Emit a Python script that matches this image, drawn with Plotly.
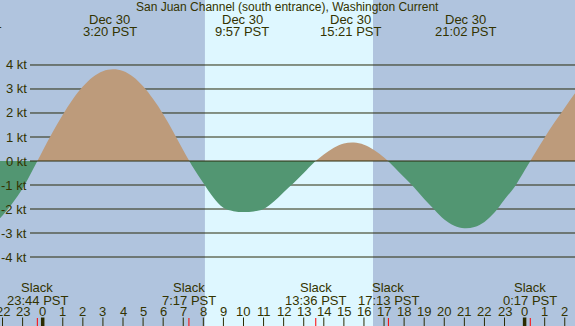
import plotly.graph_objects as go

# ---------------- data ----------------
TITLE = "San Juan Channel (south entrance), Washington Current"

# current speed in knots vs hours after midnight Dec 30 (PST), read every half hour
hours = [-2.5, -2.0, -1.5, -1.0, -0.5, 0.0, 0.5, 1.0, 1.5, 2.0, 2.5, 3.0, 3.5, 4.0, 4.5,
         5.0, 5.5, 6.0, 6.5, 7.0, 7.5, 8.0, 8.5, 9.0, 9.5, 10.0, 10.5, 11.0, 11.5, 12.0,
         12.5, 13.0, 13.5, 14.0, 14.5, 15.0, 15.5, 16.0, 16.5, 17.0, 17.5, 18.0, 18.5,
         19.0, 19.5, 20.0, 20.5, 21.0, 21.5, 22.0, 22.5, 23.0, 23.5, 24.0, 24.5, 25.0,
         25.5, 26.0, 26.5, 27.0]
speeds = [-2.68, -2.27, -1.75, -1.15, -0.38, 0.43, 1.21, 1.93, 2.57, 3.10, 3.50, 3.74, 3.82, 3.75, 3.51,
          3.11, 2.58, 1.95, 1.22, 0.45, -0.28, -0.92, -1.52, -1.95, -2.09, -2.125, -2.10, -2.0, -1.7, -1.3,
          -0.92, -0.5, -0.07, 0.27, 0.55, 0.73, 0.77, 0.68, 0.46, 0.15, -0.25, -0.68, -1.1,
          -1.58, -2.02, -2.44, -2.7, -2.8, -2.75, -2.54, -2.15, -1.6, -1.08, -0.4, 0.3, 0.98,
          1.62, 2.22, 2.81, 3.3]

slack_hours = [-0.267, 7.283, 13.6, 17.217, 24.283]
slack_labels = ["23:44 PST", "7:17 PST", "13:36 PST", "17:13 PST", "0:17 PST"]

extreme_hours = [3.333, 9.95, 15.35, 21.033]
extreme_dates = ["Dec 30", "Dec 30", "Dec 30", "Dec 30"]
extreme_labels = ["3:20 PST", "9:57 PST", "15:21 PST", "21:02 PST"]

sunrise, sunset = 8.08, 16.45
kt_levels = [-4, -3, -2, -1, 0, 1, 2, 3, 4]
hour_ticks = list(range(-2, 27))

# ---------------- styling ----------------
W, H = 575, 326
NIGHT = "#b0c4de"
DAY = "#def7ff"
FLOOD = "#bd9b7b"
EBB = "#529672"
TXT = "#333300"
GRID = "#2b2b0b"
FONT = "Liberation Sans"
FS = 13
X_RANGE = [-2.126, 26.51]
Y_TOP, Y_BOT = 6.708, -6.875
ZERO_PX = 161


def py(px):
    return 1 - px / H


fig = go.Figure()

# flood part: clipped to the area above 0 kt (yaxis2); ebb part: below 0 kt (yaxis3)
fig.add_trace(go.Scatter(
    x=hours, y=speeds, mode="lines", xaxis="x", yaxis="y2",
    line=dict(width=0, shape="spline", smoothing=1),
    fill="tozeroy", fillcolor=FLOOD, hoverinfo="skip", showlegend=False))
fig.add_trace(go.Scatter(
    x=hours, y=speeds, mode="lines", xaxis="x", yaxis="y3",
    line=dict(width=0, shape="spline", smoothing=1),
    fill="tozeroy", fillcolor=EBB, hoverinfo="skip", showlegend=False))

shapes = []
# daylight band
shapes.append(dict(type="rect", xref="x", yref="paper", x0=sunrise, x1=sunset,
                   y0=0, y1=1, fillcolor=DAY, line=dict(width=0), layer="below"))
# grid lines
for k in kt_levels:
    shapes.append(dict(type="line", xref="paper", yref="y", x0=30 / W, x1=1,
                       y0=k, y1=k, line=dict(color=GRID, width=1),
                       layer="above" if k == 0 else "below"))
# hour ticks
for h in hour_ticks:
    midnight = (h % 24 == 0)
    shapes.append(dict(type="line", xref="x", yref="paper", x0=h, x1=h,
                       y0=py(317.5), y1=0,
                       line=dict(color="#2b2b00", width=3.5 if midnight else 1)))
# slack ticks (red)
for s in slack_hours:
    shapes.append(dict(type="line", xref="x", yref="paper", x0=s, x1=s,
                       y0=py(318), y1=0, line=dict(color="#ff0000", width=1)))

ann = []
font = dict(family=FONT, size=FS, color=TXT)
ann.append(dict(text=TITLE, xref="paper", yref="paper", x=0.5, y=py(7.5),
                xanchor="center", yanchor="middle", showarrow=False,
                font=dict(family=FONT, size=12, color=TXT)))
for h, d, t in zip(extreme_hours, extreme_dates, extreme_labels):
    ann.append(dict(text=d, xref="x", yref="paper", x=h, y=py(19.5),
                    xanchor="center", yanchor="middle", showarrow=False, font=font))
    ann.append(dict(text=t, xref="x", yref="paper", x=h, y=py(32),
                    xanchor="center", yanchor="middle", showarrow=False, font=font))
# fragment of the previous (clipped) label at the left edge
ann.append(dict(text="20:44 PST", xref="paper", yref="paper", x=2.5 / W, y=py(32),
                xanchor="right", yanchor="middle", showarrow=False, font=font))
for s, t in zip(slack_hours, slack_labels):
    ann.append(dict(text="Slack", xref="x", yref="paper", x=s, y=py(287.5),
                    xanchor="center", yanchor="middle", showarrow=False, font=font))
    ann.append(dict(text=t, xref="x", yref="paper", x=s, y=py(300),
                    xanchor="center", yanchor="middle", showarrow=False, font=font))
for h in hour_ticks:
    ann.append(dict(text=str(h % 24), xref="x", yref="paper", x=h, y=py(311),
                    xanchor="center", yanchor="middle", showarrow=False, font=font))
for k in kt_levels:
    ann.append(dict(text=f"{k} kt", xref="paper", yref="y", x=28.5 / W, y=k,
                    xanchor="right", yanchor="middle", showarrow=False, font=font))

fig.update_layout(
    width=W, height=H, margin=dict(l=0, r=0, t=0, b=0),
    paper_bgcolor=NIGHT, plot_bgcolor="rgba(0,0,0,0)",
    xaxis=dict(range=X_RANGE, visible=False, fixedrange=True, anchor="y"),
    yaxis=dict(range=[Y_BOT, Y_TOP], visible=False, fixedrange=True, domain=[0, 1]),
    yaxis2=dict(range=[0, Y_TOP], visible=False, fixedrange=True,
                domain=[py(ZERO_PX), 1], anchor="x"),
    yaxis3=dict(range=[Y_BOT, 0], visible=False, fixedrange=True,
                domain=[0, py(ZERO_PX)], anchor="x"),
    shapes=shapes, annotations=ann, showlegend=False)

fig.write_html("out.html", config={"displayModeBar": False},
               post_script="document.body.style.margin='0';"
                           "document.body.style.overflow='hidden';")
